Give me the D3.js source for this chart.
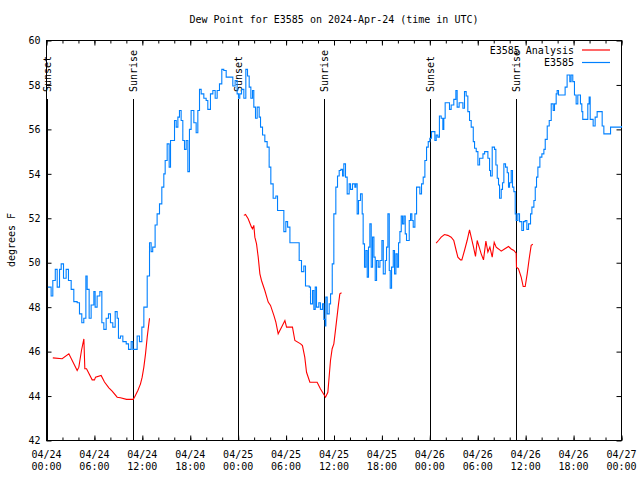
<!DOCTYPE html>
<html><head><meta charset="utf-8">
<script src="https://cdn.jsdelivr.net/npm/d3@7"></script>
<style>
body{margin:0;background:#fff}
text{font-family:"DejaVu Sans Mono",monospace;font-size:10px;fill:#000}
</style>
</head><body>
<svg id="c" width="640" height="480"></svg>
<script>
// ---- data (hours since 2024-04-24 00:00 UTC) ----
const titleText = "Dew Point for E3585 on 2024-Apr-24 (time in UTC)";
const yLabel = "degrees F";
const seriesNames = ["E3585 Analysis", "E3585"];
const yTicks = [42,44,46,48,50,52,54,56,58,60];

const obsHours = [0.17,0.58,0.79,1.1,1.34,1.63,1.84,2.13,2.46,2.75,3.09,3.42,3.84,4.13,4.42,4.67,4.93,5.09,5.34,5.59,5.93,6.09,6.34,6.68,6.93,7.18,7.47,7.76,8.01,8.3,8.6,8.85,9.01,9.26,9.56,9.98,10.27,10.6,10.81,11.1,11.35,11.64,11.94,12.19,12.44,12.61,12.9,13.1,13.3,13.6,13.85,14.15,14.44,14.69,14.86,15.11,15.36,15.53,15.82,16.03,16.24,16.45,16.65,16.86,17.07,17.28,17.49,17.7,17.9,18.11,18.45,18.74,18.95,19.16,19.37,19.7,19.99,20.2,20.53,20.83,21.12,21.37,21.66,21.95,22.2,22.5,23.12,23.33,23.62,23.87,24.04,24.2,24.42,24.71,24.96,25.17,25.38,25.59,25.8,25.96,26.17,26.38,26.63,26.8,27.05,27.34,27.63,27.88,28.09,28.38,28.72,28.93,29.47,29.72,29.97,30.19,30.48,31.43,31.64,31.93,32.22,32.43,32.9,33.06,33.31,33.48,33.65,33.81,34.1,34.3,34.56,34.73,34.9,34.98,35.15,35.4,35.57,35.78,35.98,36.23,36.44,36.65,36.86,37.07,37.23,37.44,37.65,37.9,38.07,38.32,38.61,38.73,38.9,39.07,39.32,39.53,39.65,39.82,39.99,40.16,40.32,40.49,40.66,40.83,41.0,41.16,41.33,41.54,41.75,42.0,42.17,42.42,42.58,42.75,42.92,43.04,43.21,43.42,43.58,43.75,43.92,44.08,44.25,44.42,44.58,44.75,44.92,45.08,45.29,45.42,45.59,45.75,45.92,46.13,46.34,46.55,46.75,46.96,47.17,47.38,47.59,47.8,48.0,48.21,48.42,48.63,48.8,49.0,49.2,49.42,49.63,49.75,49.92,50.25,50.46,50.67,51.0,51.26,51.42,51.67,51.93,52.14,52.34,52.55,52.76,52.97,53.18,53.44,53.6,53.81,54.02,54.23,54.65,54.86,55.07,55.27,55.48,55.6,55.81,56.1,56.27,56.44,56.6,56.73,56.94,57.1,57.27,57.48,57.69,57.85,57.98,58.19,58.35,58.52,58.69,58.81,59.02,59.23,59.52,59.73,59.94,60.15,60.36,60.61,60.78,61.03,61.2,61.36,61.53,61.78,62.03,62.28,62.45,62.7,62.95,63.2,63.45,63.61,63.82,63.94,64.11,64.78,64.94,65.19,65.53,65.69,65.9,66.11,66.32,66.53,66.86,67.03,67.15,67.57,67.78,67.95,68.08,68.29,68.45,68.7,68.95,69.37,69.58,69.79,70.38,70.63,72.0];
const obsValues = [48.9,48.5,49.2,49.7,48.9,49.7,49.95,49.3,49.7,49.2,48.8,48.25,48.2,47.7,47.3,47.5,49.4,48.8,47.5,48.1,48.7,48.0,48.5,48.7,47.3,47.0,47.5,47.7,47.3,47.1,47.8,47.5,46.6,46.7,46.45,46.35,46.1,46.45,46.1,46.1,46.7,46.45,47.1,48.0,48.0,49.4,50.9,50.5,50.7,51.7,52.2,52.65,53.4,54.0,54.6,55.35,54.3,55.5,55.5,56.4,56.1,56.55,56.85,56.4,55.5,55.1,55.5,54.1,56.0,56.85,56.3,55.85,56.85,57.8,57.6,57.4,57.3,56.9,57.6,57.75,57.4,57.75,58.05,58.7,58.65,58.35,58.35,57.95,58.2,57.6,57.4,57.6,57.8,57.4,58.7,58.4,57.9,57.4,57.75,57.0,56.5,57.0,56.55,56.1,55.75,55.45,55.2,54.3,53.55,52.9,53.0,52.35,52.35,51.4,51.85,51.6,50.9,50.9,50.1,49.6,49.85,48.95,48.9,48.15,48.75,47.9,48.9,48.0,48.2,47.9,48.15,47.45,47.15,48.45,47.7,48.15,48.6,49.95,52.2,53.4,53.9,54.15,54.2,53.9,54.45,53.85,53.1,53.55,53.3,53.55,53.4,53.55,52.2,52.8,53.1,52.2,50.85,49.8,50.55,49.35,50.7,51.75,49.8,51.15,50.25,49.2,50.1,49.8,50.1,51.0,49.5,50.1,50.7,52.2,49.65,48.85,49.8,50.55,49.5,50.4,49.8,50.9,51.4,52.1,51.75,52.1,51.3,51.0,51.0,51.9,52.2,51.9,51.6,52.2,53.4,53.4,53.1,53.55,53.85,54.6,55.2,55.45,55.6,55.9,55.9,55.5,55.75,55.65,56.6,56.5,56.0,56.5,57.2,57.2,56.9,57.1,57.35,57.75,57.0,57.2,57.2,56.95,57.7,57.5,56.8,56.4,56.1,55.45,55.15,55.0,54.4,54.7,54.9,55.0,55.0,54.7,54.15,53.9,55.2,55.1,54.4,53.8,53.5,52.9,53.3,53.6,54.45,54.3,54.05,53.4,53.6,54.15,53.4,53.2,52.2,51.9,52.2,51.85,51.45,51.85,51.9,51.5,51.75,52.2,52.5,52.8,53.4,53.85,54.3,54.75,54.9,55.1,55.55,56.15,56.4,57.15,56.85,57.15,57.6,57.75,57.55,57.55,57.9,58.45,58.15,58.45,58.15,57.55,57.15,57.55,57.15,56.8,56.45,56.45,57.15,57.45,56.45,56.45,56.15,56.55,56.8,56.8,56.15,55.8,55.8,56.1,56.15];

// analysis series: null marks a gap between the three runs
const anaHours = [0.79,1.96,2.8,3.84,4.05,4.38,4.68,4.8,5.01,5.72,6.01,6.14,6.84,7.26,7.81,8.22,8.85,9.26,10.02,10.85,11.02,11.44,11.77,11.98,12.19,12.4,12.61,12.9,
  18.0,
  24.71,24.92,25.25,25.67,25.8,25.96,26.09,26.3,26.51,26.72,26.92,27.34,27.76,28.05,28.47,28.72,29.01,29.43,29.85,30.06,30.8,31.1,31.82,32.05,32.34,32.56,32.98,33.89,34.31,34.94,35.23,35.56,35.77,35.98,36.23,36.52,36.73,36.94,
  42.0,
  48.79,49.08,49.42,49.83,50.25,50.67,51.0,51.3,51.51,51.84,52.01,52.34,52.67,52.97,53.18,53.47,53.72,53.93,54.18,54.43,54.72,55.02,55.27,55.52,55.81,56.06,56.31,56.6,56.94,57.35,57.85,58.19,58.52,58.81,58.85,59.1,59.44,59.69,59.94,60.19,60.44,60.69,60.9];
const anaValues = [45.72,45.68,45.9,45.15,45.3,46.05,46.57,45.23,45.23,44.73,44.73,44.85,44.93,44.63,44.37,44.22,43.95,43.92,43.85,43.85,43.95,44.25,44.55,44.85,45.3,45.9,46.65,47.5,
  null,
  52.13,52.17,51.98,51.6,51.53,51.68,51.15,50.85,50.25,49.5,49.2,48.75,48.23,48.08,47.63,47.33,46.8,47.1,47.4,47.1,47.1,46.5,46.35,46.27,45.75,45.07,44.62,44.62,44.32,43.95,44.17,45.6,46.13,46.35,47.1,48.0,48.6,48.65,
  null,
  50.88,51.0,51.15,51.27,51.23,51.15,51.0,50.55,50.25,50.13,50.13,50.55,51.0,51.48,51.15,50.7,50.28,51.0,50.7,50.4,50.13,50.97,50.48,50.7,50.25,50.92,50.7,50.62,50.52,50.62,50.73,50.62,50.55,50.43,49.8,49.73,49.35,48.93,48.93,49.5,50.18,50.78,50.83];

const sunEventHours = [0.07, 10.88, 24.0, 34.8, 48.05, 58.8];
const sunEventNames = ["Sunset","Sunrise","Sunset","Sunrise","Sunset","Sunrise"];

// ---- drawing ----
const t0 = Date.UTC(2024,3,24,0,0);
const H = 3600e3;
const toDate = h => new Date(t0 + h*H);

const svg = d3.select("#c");
const L = 46.5, R = 621.5, T = 40.5, B = 440.5;
const x = d3.scaleUtc().domain([toDate(0), toDate(72)]).range([L, R]);
const y = d3.scaleLinear().domain([42,60]).range([B, T]);

const blue = "#0080ff", red = "#ff0000";

// title
svg.append("text").attr("x", (L+R)/2).attr("y", 23).attr("text-anchor","middle").text(titleText);
// y label
svg.append("text").attr("transform","translate(15,240) rotate(-90)").attr("text-anchor","middle").text(yLabel);

// axes (ticks inward)
const major = d3.utcHour.every(6), minor = d3.utcHour.every(2);
function clean(g){ g.select(".domain").remove(); g.selectAll("line").attr("stroke","#000"); }
svg.append("g").attr("transform",`translate(0,${B})`).call(d3.axisBottom(x).ticks(minor).tickSize(-3).tickFormat("")).call(clean);
svg.append("g").attr("transform",`translate(0,${B})`).call(d3.axisBottom(x).ticks(major).tickSize(-5).tickFormat("")).call(clean);
svg.append("g").attr("transform",`translate(0,${T})`).call(d3.axisTop(x).ticks(minor).tickSize(-3).tickFormat("")).call(clean);
svg.append("g").attr("transform",`translate(0,${T})`).call(d3.axisTop(x).ticks(major).tickSize(-5).tickFormat("")).call(clean);
const gl = svg.append("g").attr("transform",`translate(${L},0)`).call(d3.axisLeft(y).tickValues(yTicks).tickSize(-5).tickPadding(6).tickFormat(d3.format("d"))).call(clean);
gl.selectAll("text").style("font-family",'"DejaVu Sans Mono",monospace').style("font-size","10px").attr("fill","#000");
svg.append("g").attr("transform",`translate(${R},0)`).call(d3.axisRight(y).tickValues(yTicks).tickSize(-5).tickFormat("")).call(clean);

// x labels, two lines
const fmtD = d3.utcFormat("%m/%d"), fmtT = d3.utcFormat("%H:%M");
const xl = svg.append("g").selectAll("text").data(x.ticks(major)).join("text")
  .attr("text-anchor","middle").attr("transform", d => `translate(${x(d)},0)`);
xl.append("tspan").attr("x",0).attr("y",458).text(d=>fmtD(d));
xl.append("tspan").attr("x",0).attr("y",470).text(d=>fmtT(d));

// border
svg.append("rect").attr("x",L).attr("y",T).attr("width",R-L).attr("height",B-T).attr("fill","none").attr("stroke","#000");

// sunrise / sunset markers
sunEventHours.forEach((h,i)=>{
  const xp = Math.floor(x(toDate(h)))+0.5;
  svg.append("line").attr("x1",xp).attr("x2",xp).attr("y1",99).attr("y2",B).attr("stroke","#000");
  svg.append("text").attr("transform",`translate(${xp},92) rotate(-90)`).attr("dy","0.35em").attr("text-anchor","start").text(sunEventNames[i]);
});

// series
const obs = obsHours.map((h,i)=>({t:toDate(h), v:obsValues[i]}));
const ana = anaHours.map((h,i)=>({t:toDate(h), v:anaValues[i]}));
svg.append("path").datum(obs).attr("fill","none").attr("stroke",blue).attr("stroke-width",1.1)
  .attr("d", d3.line().x(d=>x(d.t)).y(d=>y(d.v)).curve(d3.curveStepAfter));
svg.append("path").datum(ana).attr("fill","none").attr("stroke",red).attr("stroke-width",1.1)
  .attr("d", d3.line().defined(d=>d.v!==null).x(d=>x(d.t)).y(d=>y(d.v)));

// legend
const legColors = [red, blue];
seriesNames.forEach((n,i)=>{
  const yy = 50 + i*12.5;
  svg.append("text").attr("x",574).attr("y",yy).attr("dy","0.35em").attr("text-anchor","end").text(n);
  svg.append("line").attr("x1",582).attr("x2",610).attr("y1",yy).attr("y2",yy).attr("stroke",legColors[i]).attr("stroke-width",1.2);
});
</script>
</body></html>
